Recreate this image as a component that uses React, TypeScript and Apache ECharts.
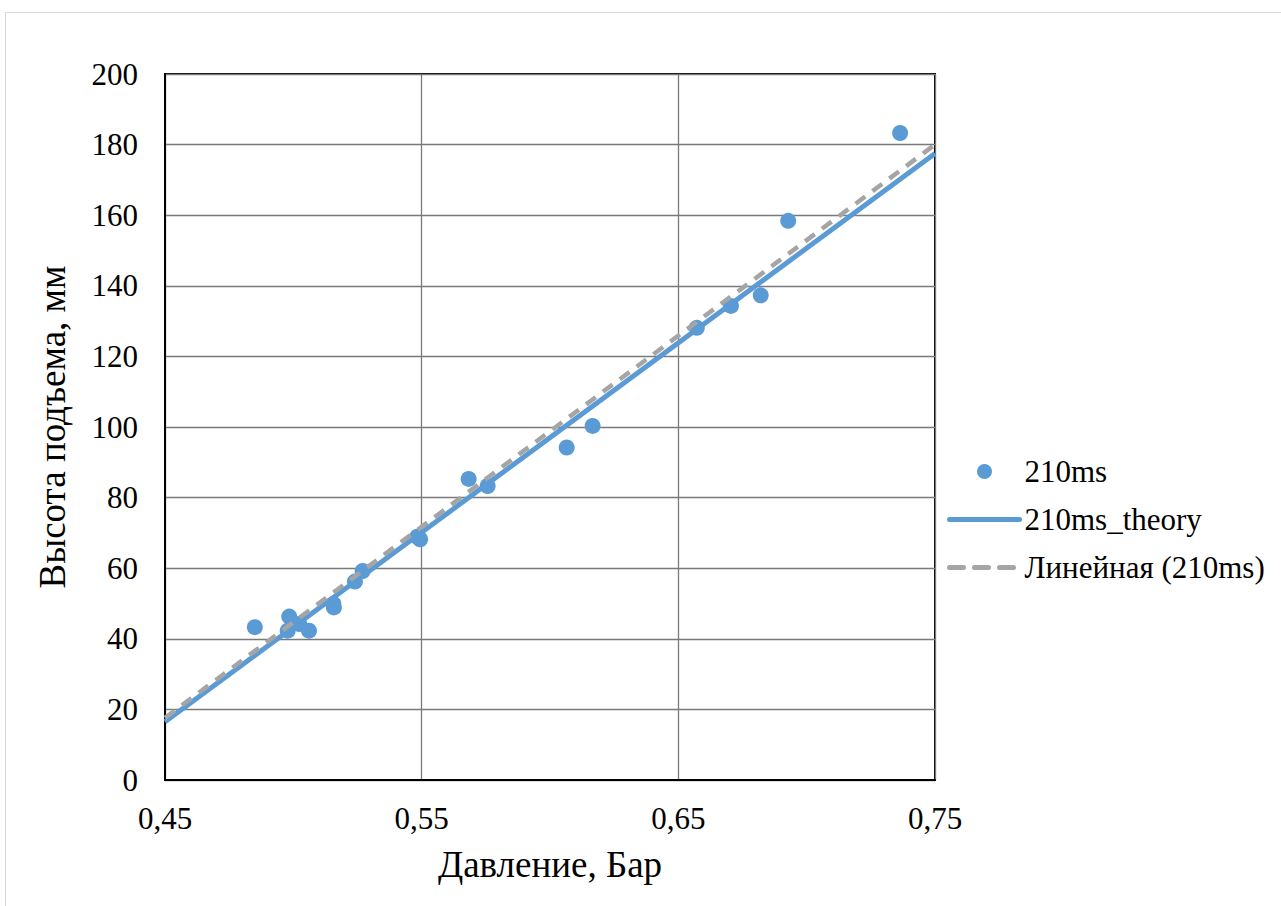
import React, { useEffect, useRef } from "react";
import * as echarts from "echarts";

const pointsX = [0.485, 0.4984, 0.4978, 0.5023, 0.5061, 0.5156, 0.5158, 0.524, 0.527, 0.5483, 0.5494, 0.5683, 0.5757, 0.6065, 0.6166, 0.6572, 0.6705, 0.6821, 0.6928, 0.7364];
const pointsY = [43.3, 46.3, 42.3, 44.2, 42.3, 49.9, 48.9, 56.2, 59.2, 68.9, 68.2, 85.3, 83.3, 94.2, 100.3, 128.1, 134.3, 137.3, 158.4, 183.3];
const theoryX = [0.45, 0.75];
const theoryY = [16.5, 177.5];
const trendX = [0.45, 0.75];
const trendY = [17.6, 180.0];
const seriesNames = ["210ms", "210ms_theory", "Линейная (210ms)"];

const FONT = "'Liberation Serif', 'Times New Roman', serif";

export default function App() {
  const ref = useRef<HTMLDivElement>(null);
  useEffect(() => {
    const chart = echarts.init(ref.current!, null, { renderer: "svg" });
    const zip = (xs: number[], ys: number[]) => xs.map((x, i) => [x, ys[i]]);
    chart.setOption({
      animation: false,
      backgroundColor: "#ffffff",
      textStyle: { fontFamily: FONT, color: "#000" },
      graphic: [
        {
          type: "rect",
          shape: { x: 5.5, y: 12.5, width: 1300, height: 1000 },
          style: { fill: "none", stroke: "#D9D9D9", lineWidth: 1 },
          silent: true,
        },
      ],
      grid: {
        left: 165,
        top: 74,
        right: 346,
        bottom: 126,
        show: true,
        borderColor: "#000",
        borderWidth: 2,
      },
      legend: {
        orient: "vertical",
        left: 942,
        top: 451,
        itemWidth: 70,
        itemHeight: 15,
        itemGap: 17,
        textStyle: { fontFamily: FONT, fontSize: 31, color: "#000", lineHeight: 31 },
        data: [
          { name: seriesNames[0] },
          { name: seriesNames[1], itemStyle: { opacity: 0 }, lineStyle: { width: 5, cap: "round" } },
          { name: seriesNames[2], itemStyle: { opacity: 0 }, lineStyle: { width: 5, type: [14, 11], cap: "round" } },
        ],
      },
      xAxis: {
        type: "value",
        min: 0.45,
        max: 0.75,
        interval: 0.1,
        name: "Давление, Бар",
        nameLocation: "middle",
        nameGap: 66,
        nameTextStyle: { fontFamily: FONT, fontSize: 37, color: "#000" },
        axisLine: { show: true, lineStyle: { color: "#000", width: 2 } },
        axisTick: { show: false },
        axisLabel: {
          fontFamily: FONT,
          fontSize: 31,
          color: "#000",
          margin: 23,
          formatter: (v: number) => v.toFixed(2).replace(".", ","),
        },
        splitLine: { show: true, lineStyle: { color: "#7A7A7A", width: 1.3 } },
      },
      yAxis: {
        type: "value",
        min: 0,
        max: 200,
        interval: 20,
        name: "Высота подъема, мм",
        nameLocation: "middle",
        nameGap: 94,
        nameTextStyle: { fontFamily: FONT, fontSize: 37, color: "#000" },
        axisLine: { show: true, lineStyle: { color: "#000", width: 2 } },
        axisTick: { show: false },
        axisLabel: { fontFamily: FONT, fontSize: 31, color: "#000", margin: 27 },
        splitLine: { show: true, lineStyle: { color: "#7A7A7A", width: 1.3 } },
      },
      series: [
        {
          name: seriesNames[0],
          type: "scatter",
          data: zip(pointsX, pointsY),
          symbol: "circle",
          symbolSize: 16,
          itemStyle: { color: "#5B9BD5", opacity: 1 },
          z: 3,
        },
        {
          name: seriesNames[1],
          type: "line",
          data: zip(theoryX, theoryY),
          showSymbol: false,
          symbol: "none",
          lineStyle: { color: "#5B9BD5", width: 5 },
          itemStyle: { color: "#5B9BD5" },
          z: 2,
        },
        {
          name: seriesNames[2],
          type: "line",
          data: zip(trendX, trendY),
          showSymbol: false,
          symbol: "none",
          lineStyle: { color: "#A5A5A5", width: 4.5, type: [12, 9] },
          itemStyle: { color: "#A5A5A5" },
          z: 4,
        },
      ],
    });
    return () => chart.dispose();
  }, []);
  return (
    <div
      ref={ref}
      style={{ position: "fixed", left: 0, top: 0, width: 1281, height: 906, background: "#fff" }}
    />
  );
}
